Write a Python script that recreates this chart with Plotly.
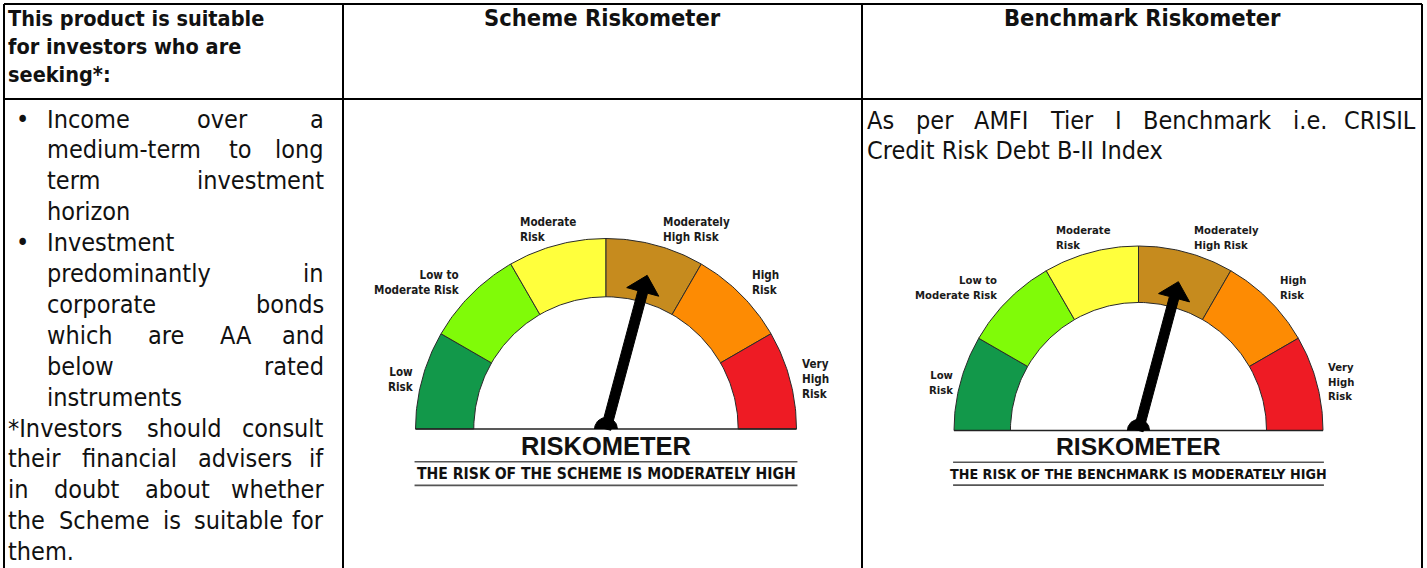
import numpy as np
import plotly.graph_objects as go

W, H = 1427, 568

# ---------------- data ----------------
risk_labels = ["Low<br>Risk", "Low to<br>Moderate Risk", "Moderate<br>Risk",
               "Moderately<br>High Risk", "High<br>Risk", "Very<br>High<br>Risk"]
risk_colors = ["#12984a", "#80fb08", "#ffff3c", "#c68b1e", "#fd8b03", "#ee1b24"]
scheme_level = 3.5        # needle position on a 0..6 scale (Moderately High Risk)
benchmark_level = 3.5
gauge_title = "RISKOMETER"
scheme_caption = "THE RISK OF THE SCHEME IS MODERATELY HIGH"
benchmark_caption = "THE RISK OF THE BENCHMARK IS MODERATELY HIGH"

header_col1 = ["This product is suitable", "for investors who are", "seeking*:"]
header_col2 = "Scheme Riskometer"
header_col3 = "Benchmark Riskometer"

col1_lines = ["Income over a", "medium-term to long", "term investment", "horizon",
              "Investment", "predominantly in", "corporate bonds", "which are AA and",
              "below rated", "instruments",
              "*Investors should consult", "their financial advisers if",
              "in doubt about whether", "the Scheme is suitable for", "them."]
col1_justify = [1, 1, 1, 0, 0, 1, 1, 1, 1, 0, 1, 1, 1, 1, 0]
col1_bullet = [1, 0, 0, 0, 1, 0, 0, 0, 0, 0, 0, 0, 0, 0, 0]
col1_indent = [1, 1, 1, 1, 1, 1, 1, 1, 1, 1, 0, 0, 0, 0, 0]

col3_lines = ["As per AMFI Tier I Benchmark i.e. CRISIL", "Credit Risk Debt B-II Index"]
col3_justify = [1, 0]

# ---------------- styling / layout ----------------
TXT_FONT = "DejaVu Sans Condensed, DejaVu Sans, sans-serif"
GAUGE_FONT = "Liberation Sans Narrow, Arial Narrow, DejaVu Sans Condensed, sans-serif"
BODY_SIZE = 25

# approximate DejaVu Sans advance widths (units / 2048)
ADV = dict(zip(" !*-.:,", [651, 821, 1024, 739, 651, 690, 651]))
ADV.update(dict(zip("ABCDEFGHIJKLMNOPQRSTUVWXYZ",
                    [1401, 1405, 1430, 1577, 1294, 1178, 1587, 1540, 604, 604, 1343, 1141, 1767,
                     1532, 1612, 1235, 1612, 1423, 1300, 1251, 1499, 1401, 2025, 1403, 1251, 1403])))
ADV.update(dict(zip("abcdefghijklmnopqrstuvwxyz",
                    [1255, 1300, 1126, 1300, 1260, 721, 1300, 1298, 569, 569, 1186, 569, 1995,
                     1298, 1253, 1300, 1300, 842, 1067, 803, 1298, 1212, 1675, 1212, 1212, 1075])))


def text_w(s, size):
    return sum(ADV.get(c, 1250) for c in s) / 2048 * size * 0.9


fig = go.Figure()
ann = []


def add_text(x, y, text, size, xanchor="left", family=TXT_FONT, color="#111", align="left"):
    ann.append(dict(x=x, y=y, xref="x", yref="y", text=text, showarrow=False,
                    xanchor=xanchor, yanchor="middle", align=align,
                    font=dict(family=family, size=size, color=color)))


def justified_line(line, y, left, right, justify, size):
    words = line.split(" ")
    if not justify or len(words) == 1:
        add_text(left, y, line, size)
        return
    widths = [text_w(w, size) for w in words]
    gap = (right - left - sum(widths)) / (len(words) - 1)
    x = left
    for i, w in enumerate(words):
        if i == len(words) - 1:
            add_text(right, y, w, size, xanchor="right")
        else:
            add_text(x, y, w, size)
        x += widths[i] + gap


# ---------------- table grid ----------------
col_x = [4, 343, 862, 1422]
top_y, head_y = 4, 99
shapes = []
for xv in col_x:
    shapes.append(dict(type="line", x0=xv, x1=xv, y0=top_y, y1=H + 5, xref="x", yref="y",
                       line=dict(color="#000", width=2)))
for yv in (top_y, head_y):
    shapes.append(dict(type="line", x0=col_x[0], x1=col_x[-1], y0=yv, y1=yv, xref="x", yref="y",
                       line=dict(color="#000", width=2)))

# ---------------- header ----------------
for i, t in enumerate(header_col1):
    add_text(col_x[0] + 2, 18 + 28 * i, "<b>" + t + "</b>", 21.5)
add_text((col_x[1] + col_x[2]) / 2, 18, "<b>" + header_col2 + "</b>", 23.5, xanchor="center")
add_text((col_x[2] + col_x[3]) / 2, 18, "<b>" + header_col3 + "</b>", 23.5, xanchor="center")

# ---------------- column 1 body ----------------
y0, pitch = 119, 30.9
for i, line in enumerate(col1_lines):
    y = y0 + pitch * i
    left = 45 if col1_indent[i] else 6
    if col1_bullet[i]:
        add_text(22, y, "•", BODY_SIZE, xanchor="center")
    justified_line(line, y, left, 326, col1_justify[i], BODY_SIZE)

# ---------------- column 3 text ----------------
for i, line in enumerate(col3_lines):
    justified_line(line, 120 + 30 * i, 865, 1418, col3_justify[i], BODY_SIZE)


# ---------------- gauges ----------------
def gauge(cx, cy, R, level, caption, cap_size):
    r_in = 0.694 * R
    n = len(risk_colors)
    step = 180.0 / n
    for i, col in enumerate(risk_colors):
        a0, a1 = np.radians(180 - step * i), np.radians(180 - step * (i + 1))
        t = np.linspace(a0, a1, 40)
        xs = np.concatenate([cx + R * np.cos(t), cx + r_in * np.cos(t[::-1])])
        ys = np.concatenate([cy - R * np.sin(t), cy - r_in * np.sin(t[::-1])])
        xs = np.append(xs, xs[0])
        ys = np.append(ys, ys[0])
        fig.add_trace(go.Scatter(x=xs, y=ys, mode="lines", fill="toself", fillcolor=col,
                                 line=dict(color="#2a2a2a", width=1), hoverinfo="skip"))
    # baseline
    fig.add_trace(go.Scatter(x=[cx - R, cx + R], y=[cy, cy], mode="lines",
                             line=dict(color="#222", width=1.5), hoverinfo="skip"))
    # needle
    phi = np.radians(180 - step * level)
    u = np.array([np.cos(phi), -np.sin(phi)])
    nv = np.array([np.sin(phi), np.cos(phi)])
    c = np.array([cx, cy])
    L, hl, hw, hh = 0.835 * R, 0.09 * R, 0.026 * R, 0.087 * R
    pts = [c + nv * hw, c + u * (L - hl) + nv * hw, c + u * (L - hl) + nv * hh, c + u * L,
           c + u * (L - hl) - nv * hh, c + u * (L - hl) - nv * hw, c - nv * hw, c + nv * hw]
    pts = np.array(pts)
    fig.add_trace(go.Scatter(x=pts[:, 0], y=pts[:, 1], mode="lines", fill="toself",
                             fillcolor="#000", line=dict(color="#000", width=1), hoverinfo="skip"))
    # hub
    t = np.linspace(0, np.pi, 40)
    hr = 0.06 * R
    fig.add_trace(go.Scatter(x=cx + hr * np.cos(t), y=cy - hr * np.sin(t), mode="lines",
                             fill="toself", fillcolor="#000", line=dict(color="#000", width=1),
                             hoverinfo="skip"))
    # labels: (dx, dy, anchor) in units of R
    pos = [(-0.995, -0.26, "right"), (-0.756, -0.77, "right"), (-0.46, -1.045, "left"),
           (0.288, -1.045, "left"), (0.758, -0.77, "left"), (1.018, -0.262, "left")]
    ls = 11.6 * R / 190.5
    for lab, (dx, dy, anc) in zip(risk_labels, pos):
        add_text(cx + dx * R, cy + dy * R, "<b>" + lab + "</b>", ls, xanchor=anc,
                 family=GAUGE_FONT, color="#1a1a1a", align=anc)
    add_text(cx, cy + 0.087 * R, "<b>" + gauge_title + "</b>", 25.5 * R / 190.5, xanchor="center",
             family="Liberation Sans, Arial, sans-serif", color="#111")
    for dy in (0.172 * R, 0.296 * R):
        shapes.append(dict(type="line", x0=cx - 1.005 * R, x1=cx + 1.005 * R, y0=cy + dy, y1=cy + dy,
                           xref="x", yref="y", line=dict(color="#555", width=1.6)))
    add_text(cx, cy + 0.236 * R, "<b>" + caption + "</b>", cap_size, xanchor="center",
             family=GAUGE_FONT, color="#111")


gauge(606, 429, 190.5, scheme_level, scheme_caption, 15.6)
gauge(1138.5, 430.5, 184.5, benchmark_level, benchmark_caption, 14.2)

fig.update_layout(
    width=W, height=H, margin=dict(l=0, r=0, t=0, b=0),
    paper_bgcolor="white", plot_bgcolor="white", showlegend=False,
    xaxis=dict(range=[0, W], visible=False, fixedrange=True),
    yaxis=dict(range=[H, 0], visible=False, fixedrange=True),
    shapes=shapes, annotations=ann,
)
fig.write_html("out.html", config={"displayModeBar": False},
               post_script="document.body.style.margin='0px';document.body.style.overflow='hidden';")
